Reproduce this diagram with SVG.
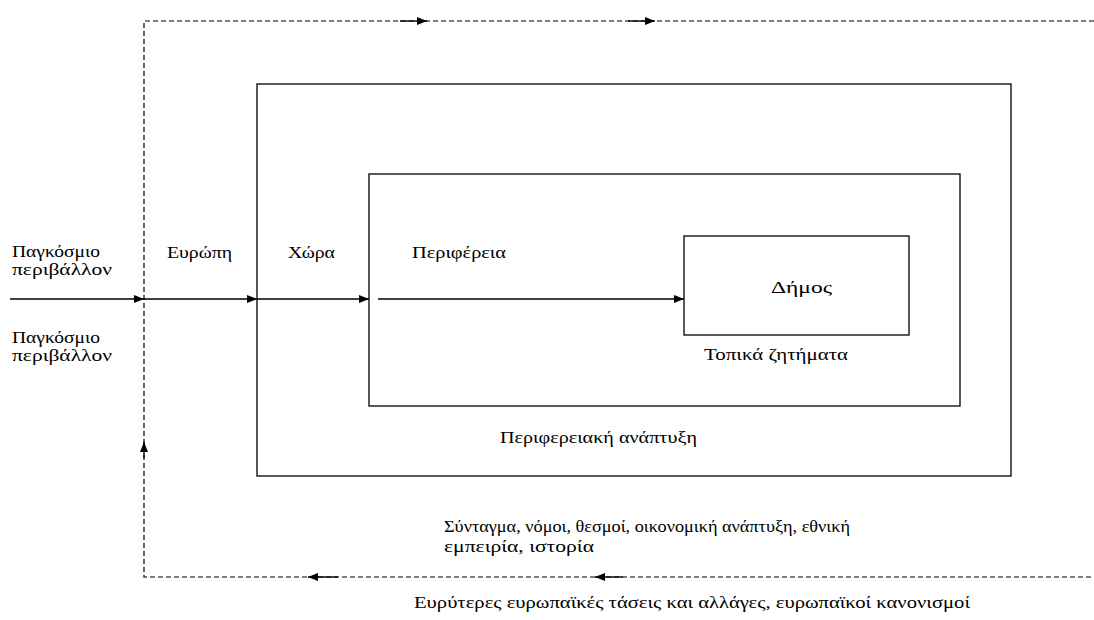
<svg xmlns="http://www.w3.org/2000/svg" width="1094" height="620" viewBox="0 0 1094 620">
<style>
text{font-family:"Liberation Serif","DejaVu Serif",serif;font-size:17px;fill:#000}
.box{fill:none;stroke:#000;stroke-width:1.3}
.dash{fill:none;stroke:#000;stroke-width:1.2;stroke-dasharray:5,3}
.ar{stroke:#000;stroke-width:1.4;fill:none;marker-end:url(#ah)}
</style>
<defs>
<marker id="ah" markerWidth="10" markerHeight="8" refX="10" refY="4" orient="auto" markerUnits="userSpaceOnUse">
<path d="M0,0 L10,4 L0,8 z" fill="#000"/>
</marker>
</defs>
<rect width="1094" height="620" fill="#fff"/>
<g id="outer-context">
<path class="dash" d="M1094,21 H144 V577 H1094"/>
<text x="12" y="257" textLength="88" lengthAdjust="spacingAndGlyphs">Παγκόσμιο</text>
<text x="12" y="275" textLength="100" lengthAdjust="spacingAndGlyphs">περιβάλλον</text>
<text x="12" y="343" textLength="88" lengthAdjust="spacingAndGlyphs">Παγκόσμιο</text>
<text x="12" y="361" textLength="100" lengthAdjust="spacingAndGlyphs">περιβάλλον</text>
<text x="414" y="608" textLength="556" lengthAdjust="spacingAndGlyphs">Ευρύτερες ευρωπαϊκές τάσεις και αλλάγες, ευρωπαϊκοί κανονισμοί</text>
</g>
<g id="europe">
<text x="167" y="258" textLength="65" lengthAdjust="spacingAndGlyphs">Ευρώπη</text>
</g>
<g id="country">
<rect class="box" x="257" y="84" width="754" height="392"/>
<text x="288" y="258" textLength="47" lengthAdjust="spacingAndGlyphs">Χώρα</text>
<text x="444" y="532" textLength="406" lengthAdjust="spacingAndGlyphs">Σύνταγμα, νόμοι, θεσμοί, οικονομική ανάπτυξη, εθνική</text>
<text x="444" y="552" textLength="150" lengthAdjust="spacingAndGlyphs">εμπειρία, ιστορία</text>
</g>
<g id="region">
<rect class="box" x="369" y="174" width="591" height="232"/>
<text x="412" y="258" textLength="94" lengthAdjust="spacingAndGlyphs">Περιφέρεια</text>
<text x="500" y="443" textLength="197" lengthAdjust="spacingAndGlyphs">Περιφερειακή ανάπτυξη</text>
</g>
<g id="municipality">
<rect class="box" x="684" y="236" width="225" height="99"/>
<text x="771" y="293" textLength="61" lengthAdjust="spacingAndGlyphs">Δήμος</text>
<text x="704" y="360" textLength="144" lengthAdjust="spacingAndGlyphs">Τοπικά ζητήματα</text>
</g>
<g id="connectors">
<line class="ar" x1="10" y1="299" x2="144" y2="299"/>
<line class="ar" x1="144" y1="299" x2="257" y2="299"/>
<line class="ar" x1="257" y1="299" x2="369" y2="299"/>
<line class="ar" x1="378" y1="299" x2="684" y2="299"/>
<line class="ar" x1="400" y1="21" x2="427" y2="21"/>
<line class="ar" x1="628" y1="21" x2="655" y2="21"/>
<line class="ar" x1="338" y1="577" x2="308" y2="577"/>
<line class="ar" x1="623" y1="577" x2="595" y2="577"/>
<line class="ar" x1="144" y1="458" x2="144" y2="442"/>
</g>
</svg>
